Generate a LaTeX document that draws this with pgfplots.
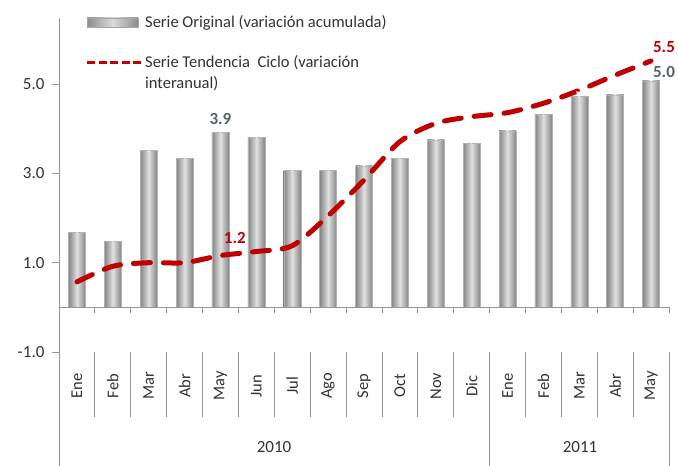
\documentclass[border=0pt]{standalone}
\usepackage{pgfplots}
\pgfplotsset{compat=1.18}
\usepackage{fontspec}
\setmainfont{Carlito}
\definecolor{dred}{RGB}{192,0,0}
\definecolor{lblue}{RGB}{85,95,112}
\definecolor{axgray}{RGB}{150,150,150}
\definecolor{txt}{RGB}{50,50,50}
\pgfplotsset{barst/.style={ybar, bar width=17pt, draw=gray!60, left color=black!48, right color=black!48, middle color=black!12}}
\begin{document}
\begin{tikzpicture}[x=1pt,y=1pt]
\useasboundingbox (0,0) rectangle (678,466);
\begin{axis}[
  at={(59pt,114pt)}, anchor=south west,
  scale only axis, width=610pt, height=334pt,
  xmin=-0.5, xmax=16.5, ymin=-1, ymax=6.48,
  axis x line*=bottom, axis y line*=left,
  x axis line style={draw=none},
  y axis line style={axgray, line width=0.8pt, -},
  xtick={0,...,16},
  xticklabels={Ene,Feb,Mar,Abr,May,Jun,Jul,Ago,Sep,Oct,Nov,Dic,Ene,Feb,Mar,Abr,May},
  xticklabel style={rotate=90, anchor=center, xshift=-27pt, font=\fontsize{16.5}{19}\selectfont, text=txt},
  major x tick style={draw=none},
  ytick={-1,1,3,5},
  yticklabel style={/pgf/number format/fixed, /pgf/number format/fixed zerofill, /pgf/number format/precision=1, /pgf/number format/assume math mode=true},
  yticklabel style={font=\fontsize{17}{20}\selectfont, text=txt, xshift=-4pt},
  tick align=outside, major tick length=7pt,
  major y tick style={axgray, line width=0.8pt},
  clip=false,
]
\addplot[barst] coordinates {(0,1.68)};
\addplot[barst] coordinates {(1,1.48)};
\addplot[barst] coordinates {(2,3.51)};
\addplot[barst] coordinates {(3,3.34)};
\addplot[barst] coordinates {(4,3.92)};
\addplot[barst] coordinates {(5,3.81)};
\addplot[barst] coordinates {(6,3.07)};
\addplot[barst] coordinates {(7,3.07)};
\addplot[barst] coordinates {(8,3.17)};
\addplot[barst] coordinates {(9,3.34)};
\addplot[barst] coordinates {(10,3.75)};
\addplot[barst] coordinates {(11,3.68)};
\addplot[barst] coordinates {(12,3.95)};
\addplot[barst] coordinates {(13,4.33)};
\addplot[barst] coordinates {(14,4.72)};
\addplot[barst] coordinates {(15,4.76)};
\addplot[barst] coordinates {(16,5.07)};
\addplot[only marks, mark=triangle*, mark size=3.5pt, mark options={rotate=180, fill=white, draw=white, yshift=-3pt}]
coordinates {(0,1.68) (1,1.48) (2,3.51) (3,3.34) (4,3.92) (5,3.81) (6,3.07) (7,3.07) (8,3.17) (9,3.34) (10,3.75) (11,3.68) (12,3.95) (13,4.33) (14,4.72) (15,4.76) (16,5.07)};
\addplot[dred, line width=5pt, line cap=round, dash pattern=on 17pt off 13pt, smooth, tension=0.5]
coordinates {(0,0.57) (1,0.92) (2,1.0) (3,1.0) (4,1.16) (5,1.25) (6,1.38) (7,2.05) (8,2.85) (9,3.71) (10,4.12) (11,4.27) (12,4.36) (13,4.57) (14,4.86) (15,5.2) (16,5.52)};
\node[text=lblue, font=\bfseries\fontsize{17}{20}\selectfont] at (axis cs:4,4.21) {3.9};
\node[text=lblue, font=\bfseries\fontsize{17}{20}\selectfont] at (axis cs:16.36,5.27) {5.0};
\node[text=dred, font=\bfseries\fontsize{17}{20}\selectfont] at (axis cs:4.4,1.56) {1.2};
\node[text=dred, font=\bfseries\fontsize{17}{20}\selectfont] at (axis cs:16.36,5.82) {5.5};
\end{axis}
% zero line with category ticks
\draw[axgray, line width=0.8pt] (59,158.7) -- (669,158.7);
\foreach \j in {1,...,17} \draw[axgray, line width=0.8pt] ({59+35.882*\j},158.7) -- ++(0,-6);
% multi-level category separators
\foreach \j in {1,...,11,13,14,15,16} \draw[axgray, line width=0.8pt] ({59+35.882*\j},114) -- ({59+35.882*\j},49);
\draw[axgray, line width=0.8pt] (59,114) -- (59,0);
\draw[axgray, line width=0.8pt] ({59+35.882*12},114) -- ({59+35.882*12},0);
\draw[axgray, line width=0.8pt] (669,114) -- (669,0);
\node[text=txt, font=\fontsize{17}{20}\selectfont] at (274,19) {2010};
\node[text=txt, font=\fontsize{17}{20}\selectfont] at (580,19) {2011};
% legend
\shade[left color=black!45, right color=black!45, middle color=black!14, draw=gray!70] (87,439) rectangle (138,448);
\node[anchor=west, text=txt, font=\fontsize{16.5}{19}\selectfont, inner sep=0pt] at (145,443) {Serie Original (variación acumulada)};
\draw[dred, line width=3pt, dash pattern=on 8pt off 3.5pt] (87,403.5) -- (142,403.5);
\node[anchor=west, text=txt, font=\fontsize{16.5}{19}\selectfont, inner sep=0pt] at (145,403) {Serie Tendencia \ Ciclo (variación};
\node[anchor=west, text=txt, font=\fontsize{16.5}{19}\selectfont, inner sep=0pt] at (145,382) {interanual)};
\end{tikzpicture}
\end{document}
